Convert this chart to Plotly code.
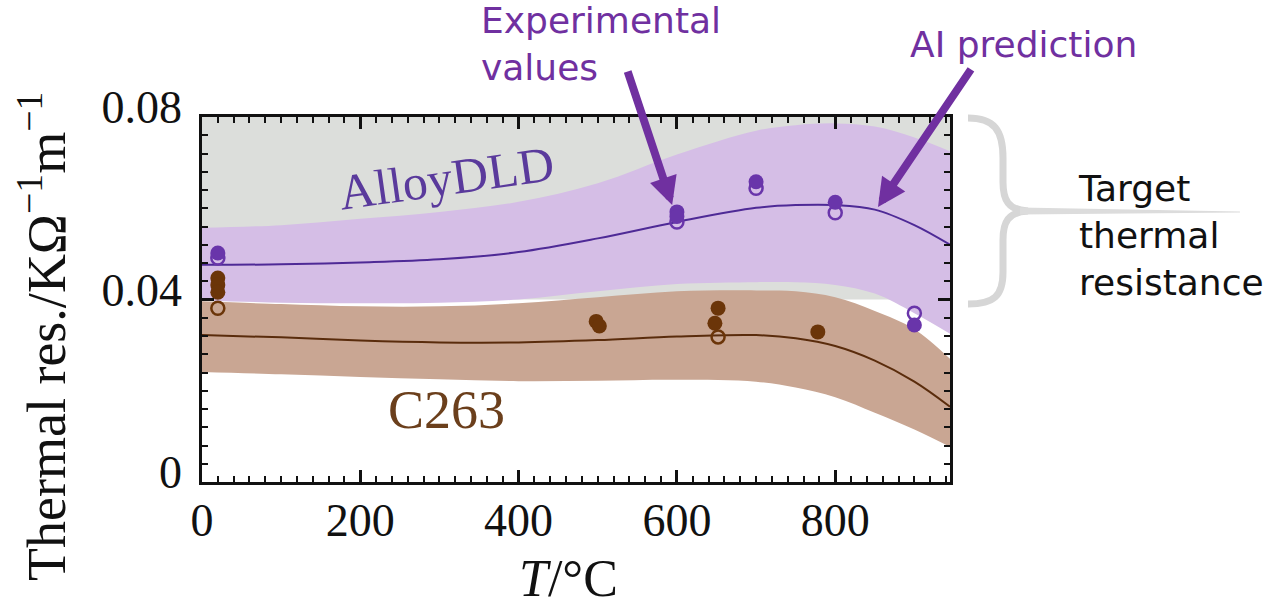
import plotly.graph_objects as go

# ---------------- data ----------------
# temperature grid of the model curves (°C)
T_grid = [0, 100, 200, 300, 400, 500, 600, 700, 750, 800, 850, 900, 945]

# AlloyDLD model prediction: mean and uncertainty band
alloy_mean = [0.0476, 0.0477, 0.0481, 0.0488, 0.0504, 0.0534, 0.0570, 0.0601, 0.0607, 0.0607, 0.0597, 0.0563, 0.0520]
alloy_upper = [0.0557, 0.0563, 0.0577, 0.0592, 0.0614, 0.0655, 0.0718, 0.0770, 0.0782, 0.0786, 0.0779, 0.0755, 0.0725]
alloy_lower = [0.0398, 0.0393, 0.0392, 0.0393, 0.0400, 0.0418, 0.0434, 0.0438, 0.0438, 0.0432, 0.0413, 0.0370, 0.0325]

# C263 model prediction: mean and uncertainty band
c263_mean = [0.0322, 0.0317, 0.0310, 0.0306, 0.0306, 0.0311, 0.0319, 0.0322, 0.0315, 0.0298, 0.0266, 0.0220, 0.0165]
c263_upper = [0.0396, 0.0390, 0.0385, 0.0385, 0.0392, 0.0405, 0.0418, 0.0420, 0.0418, 0.0405, 0.0375, 0.0335, 0.0270]
c263_lower = [0.0241, 0.0236, 0.0230, 0.0225, 0.0221, 0.0222, 0.0224, 0.0220, 0.0207, 0.0186, 0.0152, 0.0115, 0.0077]

# experimental values (filled and open symbols)
alloy_T_filled = [20, 600, 600, 700, 800, 900]
alloy_R_filled = [0.0502, 0.0592, 0.0582, 0.0658, 0.0613, 0.0344]
alloy_T_open = [20, 600, 700, 800, 900]
alloy_R_open = [0.0491, 0.0570, 0.0644, 0.0590, 0.0370]

c263_T_filled = [20, 20, 20, 498, 502, 652, 648, 778]
c263_R_filled = [0.0447, 0.0432, 0.0416, 0.0352, 0.0342, 0.0381, 0.0348, 0.0329]
c263_T_open = [20, 652]
c263_R_open = [0.0381, 0.0318]

# target thermal resistance window
target_range = [0.04, 0.08]

x_range = [0, 945]
y_range = [0, 0.08]
x_ticks = [0, 200, 400, 600, 800]
y_ticks = [0, 0.04, 0.08]
y_ticklabels = ["0", "0.04", "0.08"]

# ---------------- styling ----------------
W, H = 1276, 608
L, R, TOP, B = 202, 326, 117, 126
PW, PH = W - L - R, H - TOP - B

PURPLE_BAND = "#d5bee6"
PURPLE_LINE = "#4e2a96"
PURPLE_DOT = "#6935aa"
BROWN_BAND = "#c9a693"
BROWN_LINE = "#5a2c0c"
BROWN_DOT = "#6b3509"
GREY = "#dcdedb"
ANNOT = "#7030a0"
SERIF = "Liberation Serif, Times New Roman, serif"
SANS = "DejaVu Sans, Noto Sans, sans-serif"


def px(xp):
    """page x pixel -> paper coordinate"""
    return (xp - L) / PW


def py(yp):
    """page y pixel -> paper coordinate"""
    return (H - B - yp) / PH


fig = go.Figure()

# uncertainty bands
fig.add_trace(go.Scatter(x=T_grid, y=alloy_lower, mode="lines", line=dict(width=0, shape="spline"),
                         hoverinfo="skip", showlegend=False))
fig.add_trace(go.Scatter(x=T_grid, y=alloy_upper, mode="lines", line=dict(width=0, shape="spline"),
                         fill="tonexty", fillcolor=PURPLE_BAND, hoverinfo="skip", showlegend=False))
fig.add_trace(go.Scatter(x=T_grid, y=c263_lower, mode="lines", line=dict(width=0, shape="spline"),
                         hoverinfo="skip", showlegend=False))
fig.add_trace(go.Scatter(x=T_grid, y=c263_upper, mode="lines", line=dict(width=0, shape="spline"),
                         fill="tonexty", fillcolor=BROWN_BAND, hoverinfo="skip", showlegend=False))

# mean predictions
fig.add_trace(go.Scatter(x=T_grid, y=alloy_mean, mode="lines",
                         line=dict(color=PURPLE_LINE, width=2, shape="spline"), showlegend=False))
fig.add_trace(go.Scatter(x=T_grid, y=c263_mean, mode="lines",
                         line=dict(color=BROWN_LINE, width=2, shape="spline"), showlegend=False))

# measurements
fig.add_trace(go.Scatter(x=alloy_T_open, y=alloy_R_open, mode="markers",
                         marker=dict(symbol="circle-open", size=13, color=PURPLE_DOT, line=dict(width=2.5)),
                         showlegend=False))
fig.add_trace(go.Scatter(x=alloy_T_filled, y=alloy_R_filled, mode="markers",
                         marker=dict(symbol="circle", size=15, color=PURPLE_DOT), showlegend=False))
fig.add_trace(go.Scatter(x=c263_T_open, y=c263_R_open, mode="markers",
                         marker=dict(symbol="circle-open", size=13, color=BROWN_DOT, line=dict(width=2.5)),
                         showlegend=False))
fig.add_trace(go.Scatter(x=c263_T_filled, y=c263_R_filled, mode="markers",
                         marker=dict(symbol="circle", size=15, color=BROWN_DOT), showlegend=False))

shapes = [
    # target window
    dict(type="rect", xref="paper", yref="y", x0=0, x1=1, y0=target_range[0], y1=target_range[1],
         fillcolor=GREY, line=dict(width=0), layer="below"),
]

# curly brace marking the target window
brace_pts = [
    ("M", [(968, 118)]),
    ("C", [(994, 118), (1003, 130), (1003, 158)]),
    ("L", [(1003, 182)]),
    ("C", [(1003, 200), (1008, 210), (1028, 211)]),
    ("M", [(1028, 211)]),
    ("C", [(1008, 212), (1003, 222), (1003, 240)]),
    ("L", [(1003, 272)]),
    ("C", [(1003, 296), (994, 304), (968, 304)]),
]
path = " ".join(cmd + " " + " ".join(f"{px(a):.5f},{py(b):.5f}" for a, b in pts) for cmd, pts in brace_pts)
shapes.append(dict(type="path", xref="paper", yref="paper", path=path,
                   line=dict(color="#d6d6d6", width=7)))
# tapering tail of the brace
tail = [(1020, 207.5), (1240, 211.5), (1240, 212.5), (1020, 214.5)]
tail_path = "M " + " L ".join(f"{px(a):.5f},{py(b):.5f}" for a, b in tail) + " Z"
shapes.append(dict(type="path", xref="paper", yref="paper", path=tail_path,
                   fillcolor="#dcdcdc", line=dict(width=0)))


def label(xp, yp, text, font, xanchor="center", **kw):
    return dict(x=px(xp), y=py(yp), xref="paper", yref="paper", text=text, showarrow=False,
                xanchor=xanchor, yanchor="middle", font=font, **kw)


annotations = [
    # series labels
    label(446, 178, "AlloyDLD", dict(family=SERIF, size=50, color="#5a3a9c"), textangle=-8),
    label(446, 410, "C263", dict(family=SERIF, size=54, color="#6b3f1c")),
    # axis titles
    label(42, 337, "Thermal res./KΩ<sup>−1</sup>m<sup>−1</sup>", dict(family=SERIF, size=54, color="#111"),
          textangle=-90),
    label(568, 578, "<i>T</i>/°C", dict(family=SERIF, size=52, color="#111")),
    # callouts
    label(479, 44, "Experimental<br>values", dict(family=SANS, size=36, color=ANNOT), xanchor="left",
          align="left"),
    label(908, 44, "AI prediction", dict(family=SANS, size=36, color=ANNOT), xanchor="left"),
    label(1076, 235, "Target<br>thermal<br>resistance", dict(family=SANS, size=36, color="#111"),
          xanchor="left", align="left"),
    # arrows
    dict(x=594, y=0.0607, xref="x", yref="y", text="", showarrow=True, arrowhead=2, arrowsize=0.7,
         arrowwidth=8, arrowcolor=ANNOT, ax=-45, ay=-135, standoff=0),
    dict(x=854, y=0.0603, xref="x", yref="y", text="", showarrow=True, arrowhead=2, arrowsize=0.7,
         arrowwidth=8, arrowcolor=ANNOT, ax=94, ay=-139, standoff=0),
]

axis_common = dict(showline=True, linecolor="#111", linewidth=2.5, mirror="allticks",
                   ticks="inside", ticklen=12, tickwidth=2.5, tickcolor="#111",
                   showgrid=False, zeroline=False,
                   tickfont=dict(family=SERIF, size=46, color="#111"))

fig.update_xaxes(range=x_range, tickvals=x_ticks, ticklabelstandoff=-4,
                 minor=dict(dtick=20, ticks="inside", ticklen=6, tickwidth=2, tickcolor="#111"),
                 **axis_common)
fig.update_yaxes(range=y_range, tickvals=y_ticks, ticktext=y_ticklabels, ticklabelstandoff=8,
                 ticklabelshift=-10,
                 minor=dict(dtick=0.004, ticks="inside", ticklen=6, tickwidth=2, tickcolor="#111"),
                 **axis_common)

fig.update_layout(width=W, height=H, margin=dict(l=L, r=R, t=TOP, b=B),
                  plot_bgcolor="white", paper_bgcolor="white",
                  shapes=shapes, annotations=annotations, showlegend=False)

fig.write_html("out.html")
